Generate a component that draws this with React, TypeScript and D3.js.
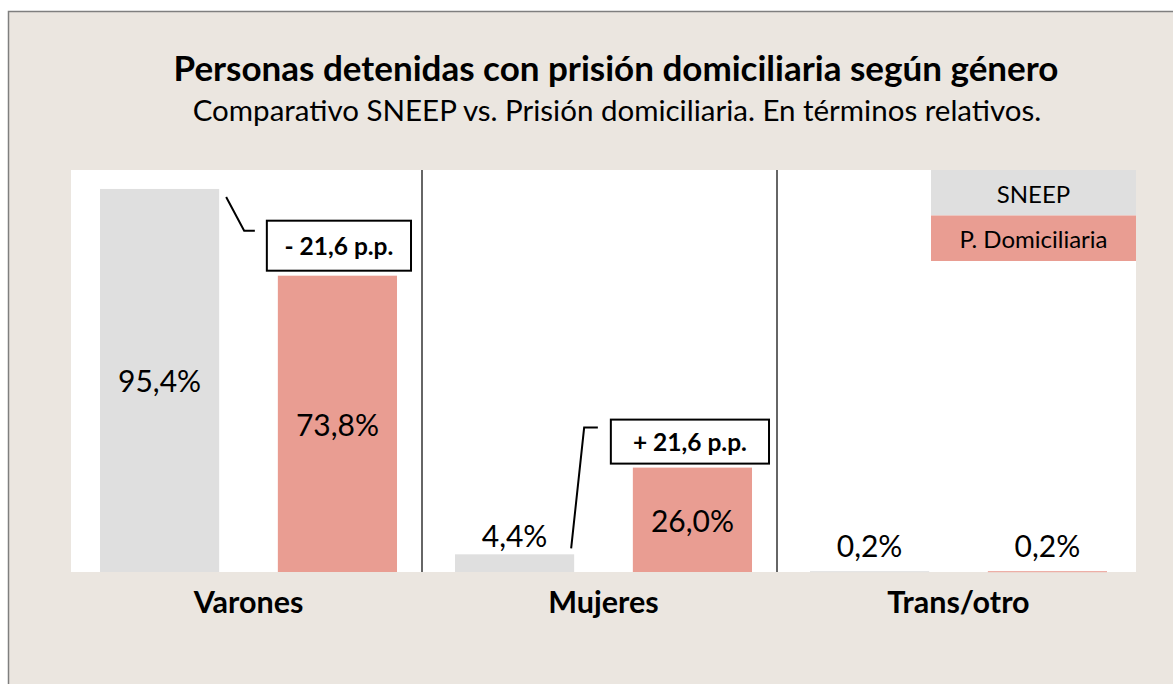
import React from "react";
import * as d3 from "d3";

const categories = ["Varones", "Mujeres", "Trans/otro"];
const seriesNames = ["SNEEP", "P. Domiciliaria"];
const sneepValues = [95.4, 4.4, 0.2];
const domiciliariaValues = [73.8, 26.0, 0.2];
const valueLabels = [
  ["95,4%", "73,8%"],
  ["4,4%", "26,0%"],
  ["0,2%", "0,2%"],
];
const diffLabels = ["- 21,6 p.p.", "+ 21,6 p.p."];
const title = "Personas detenidas con prisión domiciliaria según género";
const subtitle = "Comparativo SNEEP vs. Prisión domiciliaria. En términos relativos.";

const W = 1173;
const H = 684;
const BG = "#EBE6E0";
const GRAY = "#DFDFDF";
const SALMON = "#E99D92";
const FONT = "Lato, 'Open Sans', sans-serif";

export default function App() {
  const plot = { x0: 71, x1: 1136, y0: 170, y1: 572 };
  const x = d3.scaleBand<string>().domain(categories).range([plot.x0, plot.x1]).paddingInner(0).paddingOuter(0);
  const xs = d3
    .scaleBand<string>()
    .domain(seriesNames)
    .range([0, x.bandwidth()])
    .paddingInner(0.33)
    .paddingOuter(0.163);
  const y = d3.scaleLinear().domain([0, 100]).range([plot.y1, plot.y0 + 0.5]);
  const colors = d3.scaleOrdinal<string, string>().domain(seriesNames).range([GRAY, SALMON]);
  const seriesValues = [sneepValues, domiciliariaValues];

  const bars: any[] = [];
  categories.forEach((c, ci) => {
    seriesNames.forEach((s, si) => {
      const v = seriesValues[si][ci];
      const bx = (x(c) as number) + (xs(s) as number);
      const by = y(v);
      const h = plot.y1 - by;
      bars.push({ c, s, v, bx, by, h, label: valueLabels[ci][si], ci, si });
    });
  });

  const bw = xs.bandwidth();

  const vSneep = bars.find((b) => b.ci === 0 && b.si === 0);
  const vDom = bars.find((b) => b.ci === 0 && b.si === 1);
  const mSneep = bars.find((b) => b.ci === 1 && b.si === 0);
  const mDom = bars.find((b) => b.ci === 1 && b.si === 1);

  const box1 = { x: vDom.bx - 11, y: vDom.by - 55, w: bw + 25, h: 50 };
  const box2 = { x: mDom.bx - 22, y: mDom.by - 48, w: bw + 39, h: 44 };

  const line1 = [
    [vSneep.bx + bw + 7, vSneep.by + 8],
    [vSneep.bx + bw + 25, box1.y + 10],
    [box1.x - 12, box1.y + 10],
  ];
  const line2 = [
    [mSneep.bx + bw - 3, mSneep.by - 6],
    [mSneep.bx + bw + 10, box2.y + 8],
    [box2.x - 13, box2.y + 8],
  ];
  const lineGen = d3.line();

  const seps = categories.slice(1).map((c) => (x(c) as number) - 4);

  return (
    <svg
      width={W}
      height={H}
      style={{ position: "absolute", left: 0, top: 0, display: "block" }}
      fontFamily={FONT}
    >
      <defs>
        <filter id="sh" x="-50%" y="-5%" width="200%" height="110%">
          <feGaussianBlur stdDeviation="1.5" />
        </filter>
      </defs>
      <rect x={0} y={0} width={W} height={H} fill="#FFFFFF" />
      <rect x={8.5} y={11.5} width={W + 10} height={H + 10} fill={BG} stroke="#7F7F7F" strokeWidth={1.5} />

      <text x={616} y={81} textAnchor="middle" fontWeight={700} fontSize={35} fill="#000">
        {title}
      </text>
      <text x={617} y={121} textAnchor="middle" fontSize={29.5} fill="#000">
        {subtitle}
      </text>

      <rect x={plot.x0} y={plot.y0} width={plot.x1 - plot.x0} height={plot.y1 - plot.y0} fill="#FFFFFF" />

      {seps.map((sx, i) => (
        <g key={i}>
          <line x1={sx + 2} x2={sx + 2} y1={plot.y0} y2={plot.y1} stroke="#999" strokeWidth={2} filter="url(#sh)" opacity={0.6} />
          <line x1={sx} x2={sx} y1={plot.y0} y2={plot.y1} stroke="#333" strokeWidth={1.5} />
        </g>
      ))}

      {bars.map((b, i) => (
        <rect key={i} x={b.bx} y={b.by} width={bw} height={Math.max(b.h, 1)} fill={colors(b.s)} />
      ))}

      {bars.map((b, i) => {
        const inside = b.h > 60;
        const ty = inside ? b.by + b.h / 2 : Math.min(b.by - 19, plot.y1 - 27);
        return (
          <text
            key={"l" + i}
            x={b.bx + bw / 2}
            y={ty}
            textAnchor="middle"
            dominantBaseline="central"
            fontSize={30}
            fill="#000"
          >
            {b.label}
          </text>
        );
      })}

      {categories.map((c) => (
        <text
          key={c}
          x={(x(c) as number) + x.bandwidth() / 2}
          y={613}
          textAnchor="middle"
          fontWeight={700}
          fontSize={30.5}
          fill="#000"
        >
          {c}
        </text>
      ))}

      {seriesNames.map((s, i) => (
        <g key={s}>
          <rect x={931} y={plot.y0 + i * 45.5} width={plot.x1 - 931} height={45.5} fill={colors(s)} />
          <text
            x={(931 + plot.x1) / 2}
            y={plot.y0 + i * 45.5 + 23}
            textAnchor="middle"
            dominantBaseline="central"
            fontSize={24}
            fill="#000"
          >
            {s}
          </text>
        </g>
      ))}

      <path d={lineGen(line1 as any) as string} fill="none" stroke="#000" strokeWidth={2} />
      <rect x={box1.x} y={box1.y} width={box1.w} height={box1.h} fill="#fff" stroke="#000" strokeWidth={2} />
      <text
        x={box1.x + box1.w / 2}
        y={box1.y + box1.h / 2}
        textAnchor="middle"
        dominantBaseline="central"
        fontWeight={700}
        fontSize={24.5}
      >
        {diffLabels[0]}
      </text>

      <path d={lineGen(line2 as any) as string} fill="none" stroke="#000" strokeWidth={2} />
      <rect x={box2.x} y={box2.y} width={box2.w} height={box2.h} fill="#fff" stroke="#000" strokeWidth={2} />
      <text
        x={box2.x + box2.w / 2}
        y={box2.y + box2.h / 2}
        textAnchor="middle"
        dominantBaseline="central"
        fontWeight={700}
        fontSize={24.5}
      >
        {diffLabels[1]}
      </text>
    </svg>
  );
}
